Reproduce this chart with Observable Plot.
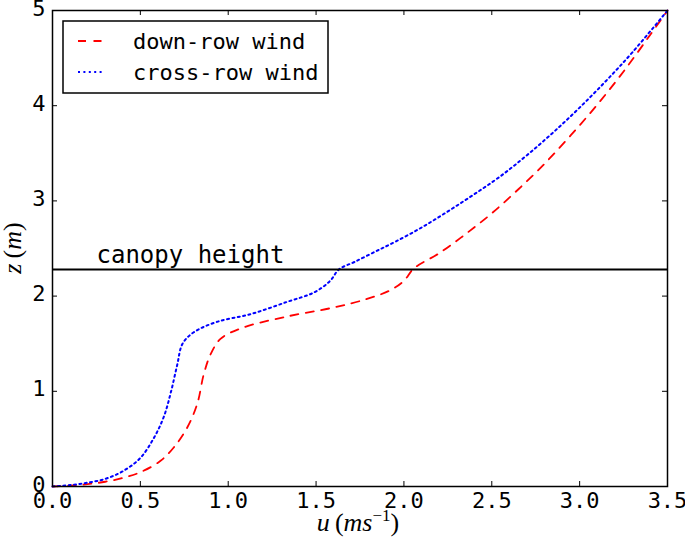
<!DOCTYPE html>
<html>
<head>
<meta charset="utf-8">
<script src="https://cdn.jsdelivr.net/npm/d3@7"></script>
<script src="https://cdn.jsdelivr.net/npm/@observablehq/plot@0.6"></script>
<style>
  html, body { margin: 0; padding: 0; background: #fff; }
  #chart { width: 685px; height: 538px; }
</style>
</head>
<body>
<div id="chart"></div>
<script>
// ---- data ----
const downRowU = [0, 0.1, 0.2, 0.3, 0.4, 0.5, 0.615, 0.69, 0.767, 0.824, 0.861, 0.90, 0.956, 1.07, 1.32, 1.60, 1.79, 1.92, 2.0, 2.056, 2.2, 2.35, 2.5, 2.65, 2.8, 2.95, 3.1, 3.25, 3.4, 3.5];
const downRowZ = [0, 0.01, 0.025, 0.05, 0.09, 0.15, 0.27, 0.41, 0.62, 0.87, 1.18, 1.39, 1.55, 1.66, 1.78, 1.88, 1.97, 2.06, 2.16, 2.29, 2.45, 2.65, 2.87, 3.12, 3.39, 3.69, 4.01, 4.36, 4.74, 5.0];

const crossRowU = [0, 0.1, 0.2, 0.3, 0.4, 0.5, 0.58, 0.635, 0.675, 0.71, 0.74, 0.804, 0.937, 1.127, 1.336, 1.49, 1.58, 1.63, 1.72, 1.84, 1.95, 2.1, 2.25, 2.4, 2.55, 2.7, 2.85, 3.0, 3.15, 3.3, 3.5];
const crossRowZ = [0, 0.015, 0.04, 0.08, 0.16, 0.30, 0.52, 0.74, 1.0, 1.28, 1.50, 1.62, 1.73, 1.81, 1.94, 2.04, 2.16, 2.28, 2.36, 2.47, 2.57, 2.72, 2.89, 3.07, 3.26, 3.48, 3.72, 3.98, 4.26, 4.56, 5.0];

const canopyHeight = 2.28;
const canopyLabel = "canopy height";
const seriesNames = ["down-row wind", "cross-row wind"];
const xTicks = [0, 0.5, 1.0, 1.5, 2.0, 2.5, 3.0, 3.5];
const yTicks = [0, 1, 2, 3, 4, 5];

// ---- build tables ----
const downRow = downRowU.map((u, i) => ({u, z: downRowZ[i]}));
const crossRow = crossRowU.map((u, i) => ({u, z: crossRowZ[i]}));

const W = 685, H = 538;
const mL = 52, mR = 18, mT = 10, mB = 52;
const plotW = W - mL - mR, plotH = H - mT - mB;
const tickLen = 5;
const mono = "DejaVu Sans Mono";

const chart = Plot.plot({
  width: W,
  height: H,
  marginLeft: mL,
  marginRight: mR,
  marginTop: mT,
  marginBottom: mB,
  style: {fontFamily: mono, fontSize: "22px", background: "white", color: "black", overflow: "visible"},
  x: {domain: [0, 3.5], ticks: xTicks, tickFormat: d3.format(".1f"), label: null},
  y: {domain: [0, 5], ticks: yTicks, tickFormat: d3.format("d"), label: null},
  marks: [
    Plot.axisX({ticks: xTicks, tickFormat: d3.format(".1f"), tickSize: 0, tickPadding: 6, fontSize: 22, label: null}),
    Plot.axisY({ticks: yTicks, tickFormat: d3.format("d"), tickSize: 0, tickPadding: 7, fontSize: 22, label: null, dy: -2}),
    // inward ticks on all four sides
    Plot.tickX(xTicks, {x: d => d, insetTop: plotH - tickLen, stroke: "black", strokeWidth: 1}),
    Plot.tickX(xTicks, {x: d => d, insetBottom: plotH - tickLen, stroke: "black", strokeWidth: 1}),
    Plot.tickY(yTicks, {y: d => d, insetRight: plotW - tickLen, stroke: "black", strokeWidth: 1}),
    Plot.tickY(yTicks, {y: d => d, insetLeft: plotW - tickLen, stroke: "black", strokeWidth: 1}),
    Plot.line(downRow, {x: "u", y: "z", stroke: "#ff0000", strokeWidth: 1.8, strokeDasharray: "8,7.5", curve: "catmull-rom"}),
    Plot.line(crossRow, {x: "u", y: "z", stroke: "#0000ff", strokeWidth: 2, strokeDasharray: "2,3.4", curve: "catmull-rom"}),
    Plot.ruleY([canopyHeight], {stroke: "black", strokeWidth: 2}),
    Plot.text([canopyHeight], {y: d => d, text: () => canopyLabel, frameAnchor: "left", textAnchor: "start", lineAnchor: "bottom", dx: 44, dy: -6, fontSize: 24, fontFamily: mono, fill: "black"}),
    Plot.frame({stroke: "black", strokeWidth: 1.5})
  ]
});

document.getElementById("chart").appendChild(chart);

// ---- legend and axis labels ----
const svg = d3.select(chart);
const lg = svg.append("g").attr("text-anchor", "start");
lg.append("rect").attr("x", 63).attr("y", 21).attr("width", 265).attr("height", 72)
  .attr("fill", "white").attr("stroke", "black").attr("stroke-width", 1.5);
const legendItems = [
  {name: seriesNames[0], color: "#ff0000", dash: "8,7.5", w: 1.8, y: 41},
  {name: seriesNames[1], color: "#0000ff", dash: "2,3.4", w: 2, y: 72}
];
legendItems.forEach(it => {
  lg.append("line").attr("x1", 78).attr("x2", 104).attr("y1", it.y).attr("y2", it.y)
    .attr("stroke", it.color).attr("stroke-width", it.w).attr("stroke-dasharray", it.dash);
  lg.append("text").attr("x", 133).attr("y", it.y).attr("dy", "0.35em").attr("text-anchor", "start")
    .attr("font-family", mono).attr("font-size", 22).attr("fill", "black").text(it.name);
});

// x label: u(ms^-1)
const serif = "Liberation Serif";
const xl = svg.append("text").attr("x", 358).attr("y", 531).attr("text-anchor", "middle")
  .attr("font-family", serif).attr("font-size", 26).attr("fill", "black");
xl.append("tspan").attr("font-style", "italic").text("u");
xl.append("tspan").text("\u2009(");
xl.append("tspan").attr("font-style", "italic").text("ms");
xl.append("tspan").attr("font-size", 17).attr("dy", -10).text("\u22121");
xl.append("tspan").attr("dy", 10).text(")");

// y label: z(m)
const yl = svg.append("text").attr("transform", "translate(21,248) rotate(-90)").attr("text-anchor", "middle")
  .attr("font-family", serif).attr("font-size", 26).attr("fill", "black");
yl.append("tspan").attr("font-style", "italic").text("z");
yl.append("tspan").text("\u2009(");
yl.append("tspan").attr("font-style", "italic").text("m");
yl.append("tspan").text(")");
</script>
</body>
</html>
